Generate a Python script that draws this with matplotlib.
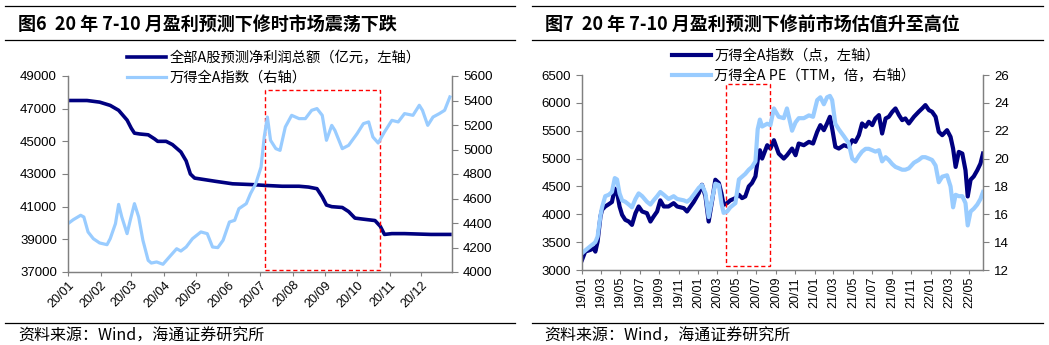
import matplotlib
matplotlib.use('Agg')
import matplotlib.pyplot as plt
import matplotlib.dates as mdates
from matplotlib.lines import Line2D
from matplotlib.patches import Rectangle
import pandas as pd

plt.rcParams['font.family'] = ['Liberation Sans', 'Noto Sans CJK SC', 'DejaVu Sans']
plt.rcParams['axes.unicode_minus'] = False

NAVY = '#000080'
LIGHT = '#99CCFF'
SPINE = '#808080'

# ========== 图6 数据 ==========
profit_dates = ['2020-01-01', '2020-01-19', '2020-01-31', '2020-02-10', '2020-02-18', '2020-02-26',
                '2020-03-01', '2020-03-04', '2020-03-09', '2020-03-17', '2020-03-23', '2020-03-26',
                '2020-04-03', '2020-04-09', '2020-04-17', '2020-04-22', '2020-04-26', '2020-04-30',
                '2020-05-05', '2020-05-20', '2020-06-05', '2020-06-24', '2020-07-06', '2020-07-22',
                '2020-08-07', '2020-08-16', '2020-08-24', '2020-08-29', '2020-09-02', '2020-09-07',
                '2020-09-17', '2020-09-23', '2020-09-29', '2020-10-05', '2020-10-18', '2020-10-23',
                '2020-10-27', '2020-11-03', '2020-11-15', '2020-12-10', '2020-12-28']
profit_vals = [47500, 47500, 47400, 47200, 46900, 46300,
               45800, 45500, 45450, 45400, 45150, 45000,
               45000, 44800, 44350, 43800, 43000, 42750,
               42700, 42550, 42400, 42350, 42300, 42250,
               42250, 42200, 42100, 41600, 41100, 41000,
               40950, 40700, 40300, 40250, 40150, 39800,
               39300, 39350, 39350, 39300, 39300]

idx20_dates = ['2020-01-01', '2020-01-06', '2020-01-13', '2020-01-16', '2020-01-20', '2020-01-25',
               '2020-01-31', '2020-02-07', '2020-02-10', '2020-02-15', '2020-02-18', '2020-02-21',
               '2020-02-26', '2020-02-29', '2020-03-04', '2020-03-08', '2020-03-12', '2020-03-17',
               '2020-03-20', '2020-03-25', '2020-03-31', '2020-04-06', '2020-04-13', '2020-04-17',
               '2020-04-22', '2020-04-28', '2020-05-06', '2020-05-12', '2020-05-17', '2020-05-22',
               '2020-05-27', '2020-06-02', '2020-06-07', '2020-06-11', '2020-06-18', '2020-06-22',
               '2020-06-27', '2020-07-02', '2020-07-05', '2020-07-08', '2020-07-11', '2020-07-16',
               '2020-07-20', '2020-07-25', '2020-07-31', '2020-08-07', '2020-08-13', '2020-08-19',
               '2020-08-24', '2020-08-29', '2020-09-02', '2020-09-07', '2020-09-10', '2020-09-17',
               '2020-09-23', '2020-10-01', '2020-10-07', '2020-10-12', '2020-10-16', '2020-10-21',
               '2020-10-27', '2020-11-03', '2020-11-09', '2020-11-15', '2020-11-23', '2020-11-29',
               '2020-12-02', '2020-12-07', '2020-12-12', '2020-12-18', '2020-12-23', '2020-12-28']
idx20_vals = [4395, 4427, 4463, 4449, 4327, 4272,
              4237, 4223, 4272, 4395, 4552, 4449,
              4313, 4422, 4558, 4449, 4259, 4095,
              4073, 4082, 4063, 4122, 4190, 4171,
              4204, 4272, 4327, 4313, 4204, 4199,
              4259, 4408, 4422, 4517, 4558, 4640,
              4721, 4857, 5102, 5265, 5075, 5007,
              4993, 5184, 5279, 5252, 5252, 5320,
              5334, 5279, 5075, 5197, 5156, 5007,
              5034, 5129, 5211, 5225, 5102, 5053,
              5143, 5238, 5225, 5293, 5279, 5361,
              5320, 5197, 5265, 5293, 5320, 5429]

# ========== 图7 数据 ==========
wind_dates = ['2019-01-01', '2019-01-11', '2019-01-27', '2019-02-07', '2019-02-12', '2019-02-19',
              '2019-02-28', '2019-03-05', '2019-03-15', '2019-03-26', '2019-04-05', '2019-04-14',
              '2019-04-21', '2019-04-29', '2019-05-07', '2019-05-17', '2019-05-28', '2019-06-07',
              '2019-06-18', '2019-06-28', '2019-07-09', '2019-07-24', '2019-08-04', '2019-08-14',
              '2019-08-25', '2019-09-04', '2019-09-15', '2019-09-30', '2019-10-16', '2019-10-27',
              '2019-11-17', '2019-11-27', '2019-12-08', '2019-12-18', '2020-01-03', '2020-01-13',
              '2020-01-24', '2020-02-03', '2020-02-14', '2020-02-24', '2020-03-06', '2020-03-14',
              '2020-03-21', '2020-04-01', '2020-04-11', '2020-04-27', '2020-05-08', '2020-05-18',
              '2020-05-28', '2020-06-08', '2020-06-18', '2020-06-29', '2020-07-06', '2020-07-13',
              '2020-07-20', '2020-08-05', '2020-08-15', '2020-08-26', '2020-09-10', '2020-09-26',
              '2020-10-06', '2020-10-22', '2020-11-02', '2020-11-12', '2020-11-28', '2020-12-14',
              '2020-12-27', '2021-01-09', '2021-01-19', '2021-01-30', '2021-02-09', '2021-02-18',
              '2021-02-25', '2021-03-07', '2021-03-18', '2021-04-03', '2021-04-18', '2021-04-29',
              '2021-05-09', '2021-05-20', '2021-05-30', '2021-06-10', '2021-06-20', '2021-07-01',
              '2021-07-11', '2021-07-22', '2021-08-01', '2021-08-12', '2021-08-22', '2021-09-02',
              '2021-09-12', '2021-09-23', '2021-10-03', '2021-10-13', '2021-10-24', '2021-11-09',
              '2021-11-24', '2021-12-05', '2021-12-15', '2021-12-26', '2022-01-05', '2022-01-16',
              '2022-01-26', '2022-02-06', '2022-02-21', '2022-03-04', '2022-03-12', '2022-03-20',
              '2022-03-30', '2022-04-10', '2022-04-20', '2022-04-27', '2022-05-06', '2022-05-16',
              '2022-05-27', '2022-06-06', '2022-06-14']
wind_index = [3180, 3330, 3360, 3390, 3330, 3510,
              3960, 4080, 4140, 4180, 4220, 4460,
              4400, 4140, 3990, 3900, 3870, 3810,
              4020, 4140, 4050, 4020, 3870, 3960,
              4050, 4250, 4140, 4140, 4200, 4140,
              4110, 4050, 4140, 4220, 4380, 4530,
              4320, 3870, 4250, 4620, 4560, 4380,
              4170, 4200, 4250, 4290, 4350, 4290,
              4320, 4500, 4560, 4680, 4970, 5150,
              5000, 5240, 5180, 5330, 5090, 5000,
              5060, 5180, 5060, 5270, 5240, 5300,
              5270, 5480, 5600, 5510, 5630, 5750,
              5540, 5210, 5180, 5240, 5210, 5330,
              5300, 5420, 5630, 5570, 5660, 5600,
              5720, 5780, 5450, 5720, 5750, 5840,
              5900, 5780, 5690, 5720, 5630, 5750,
              5840, 5900, 5960, 5870, 5840, 5750,
              5480, 5420, 5510, 5390, 5180, 4850,
              5120, 5090, 4790, 4320, 4620, 4680,
              4790, 4910, 5090]
wind_pe = [13.2, 13.4, 13.7, 13.9, 14.0, 14.4,
           15.9, 16.5, 17.3, 17.4, 17.6, 18.6,
           18.5, 17.5, 17.0, 16.9, 16.7, 16.5,
           17.1, 17.5, 17.3, 16.9, 16.7, 17.0,
           17.3, 17.6, 17.4, 17.1, 17.3, 17.1,
           17.0, 16.9, 17.1, 17.4, 17.9, 18.1,
           17.5, 15.8, 17.1, 18.2, 18.1, 16.8,
           16.1, 16.2, 16.5, 16.8, 18.5, 18.7,
           18.9, 19.2, 19.4, 19.8, 22.1, 22.8,
           22.3, 22.5, 22.4, 23.6, 23.0, 22.9,
           23.6, 22.0, 22.6, 22.9, 22.9, 23.1,
           23.0, 24.2, 24.4, 23.9, 24.4, 24.5,
           24.2, 22.5, 22.1, 21.6, 21.1, 20.0,
           19.8, 20.2, 20.5, 20.7, 20.7, 20.6,
           20.5, 20.6, 19.8, 20.1, 19.9, 19.6,
           19.4, 19.3, 19.2, 19.2, 19.3, 19.7,
           19.9, 20.1, 20.1, 20.0, 19.9, 19.5,
           18.3, 18.7, 18.8, 18.0, 16.5, 17.4,
           17.3, 17.3, 16.8, 15.2, 16.2, 16.4,
           16.7, 17.1, 17.6]

W, H = 1049, 345
fig = plt.figure(figsize=(W / 100, H / 100), dpi=100)


def fx(px):
    return px / W


def fy(py):
    return 1 - py / H


def hline(x0, x1, y):
    fig.add_artist(Line2D([fx(x0), fx(x1)], [fy(y), fy(y)], transform=fig.transFigure,
                          color='black', lw=0.9))


def style_axes(ax, ax2):
    for a in (ax, ax2):
        a.spines['top'].set_visible(False)
        for s in ('left', 'right', 'bottom'):
            a.spines[s].set_color(SPINE)
            a.spines[s].set_linewidth(0.9)
    ax.tick_params(axis='y', direction='out', length=4, width=0.8, color=SPINE, labelsize=9.5, pad=4)
    ax2.tick_params(axis='y', direction='out', length=4, width=0.8, color=SPINE, labelsize=9.5, pad=4)
    ax.tick_params(axis='x', direction='out', length=3, width=0.8, color=SPINE, labelsize=9, pad=2)


cjk = ['Noto Sans CJK SC', 'DejaVu Sans']
leg_kw = dict(loc='upper left', frameon=False, prop={'family': cjk, 'size': 10.3},
              handlelength=2.7, handletextpad=0.25, labelspacing=0.4, borderpad=0, borderaxespad=0)

# ---------------- 图6 ----------------
hline(5, 515, 6)
hline(5, 515, 40)
hline(5, 515, 323)
fig.text(fx(18), fy(24), '图6  20 年 7-10 月盈利预测下修时市场震荡下跌', family=cjk,
         fontsize=13, fontweight='bold', va='center', ha='left')
fig.text(fx(18), fy(336), '资料来源：Wind，海通证券研究所', family=cjk,
         fontsize=11.5, va='center', ha='left')

ax1 = fig.add_axes([fx(68), fy(272), fx(452 - 68), (272 - 76) / H])
ax1b = ax1.twinx()
ax1.plot(pd.to_datetime(profit_dates), profit_vals, color=NAVY, lw=2.6,
         solid_joinstyle='round', label='全部A股预测净利润总额（亿元，左轴）')
ax1b.plot(pd.to_datetime(idx20_dates), idx20_vals, color=LIGHT, lw=2.3,
          solid_joinstyle='round', label='万得全A指数（右轴）')
ax1.set_ylim(37000, 49000)
ax1.set_yticks(range(37000, 49001, 2000))
ax1b.set_ylim(4000, 5600)
ax1b.set_yticks(range(4000, 5601, 200))
ax1.set_xlim(pd.Timestamp('2020-01-01'), pd.Timestamp('2020-12-30'))
ax1.xaxis.set_major_locator(mdates.MonthLocator())
ax1.xaxis.set_major_formatter(mdates.DateFormatter('%y/%m'))
style_axes(ax1, ax1b)
for lab in ax1.get_xticklabels():
    lab.set_rotation(45)
    lab.set_ha('right')
    lab.set_rotation_mode('anchor')
ax1.add_patch(Rectangle((mdates.date2num(pd.Timestamp('2020-07-06')), 37100),
                        mdates.date2num(pd.Timestamp('2020-10-23')) - mdates.date2num(pd.Timestamp('2020-07-06')),
                        48125 - 37100, fill=False, ec='#FF0000', lw=1, ls=(0, (3, 2)), zorder=5))
h1, l1 = ax1.get_legend_handles_labels()
h2, l2 = ax1b.get_legend_handles_labels()
fig.legend(h1 + h2, l1 + l2, bbox_to_anchor=(fx(127), fy(51)), **leg_kw)

# ---------------- 图7 ----------------
hline(532, 1043, 6)
hline(532, 1043, 40)
hline(532, 1043, 323)
fig.text(fx(545), fy(24), '图7  20 年 7-10 月盈利预测下修前市场估值升至高位', family=cjk,
         fontsize=13, fontweight='bold', va='center', ha='left')
fig.text(fx(544), fy(336), '资料来源：Wind，海通证券研究所', family=cjk,
         fontsize=11.5, va='center', ha='left')

ax2 = fig.add_axes([fx(582), fy(270), fx(983 - 582), (270 - 75) / H])
ax2b = ax2.twinx()
wd = pd.to_datetime(wind_dates)
ax2.plot(wd, wind_index, color=NAVY, lw=3, solid_joinstyle='round',
         label='万得全A指数（点，左轴）')
ax2b.plot(wd, wind_pe, color=LIGHT, lw=3, solid_joinstyle='round',
          label='万得全A PE（TTM，倍，右轴）')
ax2.set_ylim(3000, 6500)
ax2.set_yticks(range(3000, 6501, 500))
ax2b.set_ylim(12, 26)
ax2b.set_yticks(range(12, 27, 2))
ax2.set_xlim(pd.Timestamp('2019-01-01'), pd.Timestamp('2022-06-14'))
ax2.xaxis.set_major_locator(mdates.MonthLocator(bymonth=[1, 3, 5, 7, 9, 11]))
ax2.xaxis.set_major_formatter(mdates.DateFormatter('%y/%m'))
style_axes(ax2, ax2b)
for lab in ax2.get_xticklabels():
    lab.set_rotation(90)
ax2.add_patch(Rectangle((mdates.date2num(pd.Timestamp('2020-03-27')), 3077),
                        mdates.date2num(pd.Timestamp('2020-08-13')) - mdates.date2num(pd.Timestamp('2020-03-27')),
                        6333 - 3077, fill=False, ec='#FF0000', lw=1, ls=(0, (3, 2)), zorder=5))
h1, l1 = ax2.get_legend_handles_labels()
h2, l2 = ax2b.get_legend_handles_labels()
fig.legend(h1 + h2, l1 + l2, bbox_to_anchor=(fx(672), fy(49)), **leg_kw)

fig.savefig('out.png', dpi=100)
